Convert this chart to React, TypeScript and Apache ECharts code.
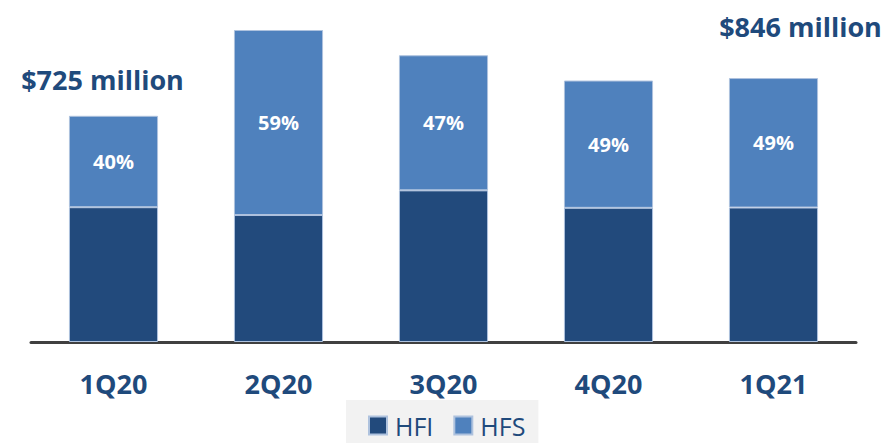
import React, { useEffect, useRef } from "react";
import * as echarts from "echarts";

const categories = ["1Q20", "2Q20", "3Q20", "4Q20", "1Q21"];
const hfi = [432, 407, 486, 430, 431];
const hfs = [293, 593, 433, 408, 415];
const totalLabels = ["$725 million", "", "", "", "$846 million"];

const FONT = "'Open Sans', sans-serif";
const NAVY = "#1f4a7c";

export default function App() {
  const ref = useRef<HTMLDivElement>(null);
  useEffect(() => {
    document.body.style.margin = "0";
    if (!ref.current) return;
    const chart = echarts.init(ref.current, null, { renderer: "svg" });
    chart.setOption({
      animation: false,
      grid: { left: 31, right: 31, top: 30, bottom: 101 },
      legend: {
        data: ["HFI", "HFS"],
        left: 346,
        top: 400,
        padding: [13, 13, 10, 22],
        backgroundColor: "#f2f2f2",
        itemWidth: 18,
        itemHeight: 18,
        itemGap: 20,
        icon: "rect",
        textStyle: {
          fontFamily: FONT,
          fontSize: 25,
          lineHeight: 24,
          color: NAVY,
          padding: [0, 0, 0, 3],
        },
      },
      xAxis: {
        type: "category",
        data: categories,
        axisTick: { show: false },
        axisLine: { lineStyle: { color: "#404040", width: 3 } },
        axisLabel: {
          fontFamily: FONT,
          fontWeight: "bold",
          fontSize: 27,
          lineHeight: 28,
          color: NAVY,
          margin: 27,
        },
      },
      yAxis: {
        type: "value",
        min: 0,
        max: 1000,
        show: false,
        splitLine: { show: false },
      },
      series: [
        {
          name: "HFI",
          type: "bar",
          stack: "total",
          barWidth: "54%",
          data: hfi,
          itemStyle: { color: "#224a7c", borderColor: "#aec2de", borderWidth: 1 },
        },
        {
          name: "HFS",
          type: "bar",
          stack: "total",
          data: hfs,
          itemStyle: { color: "#4f81bd", borderColor: "#aec2de", borderWidth: 1 },
          label: {
            show: true,
            position: "inside",
            fontFamily: FONT,
            fontWeight: "bold",
            fontSize: 20,
            color: "#ffffff",
            formatter: (p: any) =>
              Math.round((hfs[p.dataIndex] / (hfs[p.dataIndex] + hfi[p.dataIndex])) * 100) + "%",
          },
        },
        {
          name: "Total",
          type: "bar",
          stack: "total",
          data: categories.map((_, i) => ({
            value: 0,
            label:
              i === 0
                ? { offset: [-11, 0], distance: 22 }
                : i === 4
                ? { offset: [27, 0], distance: 38 }
                : {},
          })),
          itemStyle: { color: "transparent", borderWidth: 0 },
          label: {
            show: true,
            position: "top",
            fontFamily: FONT,
            fontWeight: "bold",
            fontSize: 27,
            lineHeight: 28,
            color: NAVY,
            formatter: (p: any) => totalLabels[p.dataIndex],
          },
        },
      ],
    });
    return () => chart.dispose();
  }, []);
  return <div ref={ref} style={{ width: 887, height: 443 }} />;
}
